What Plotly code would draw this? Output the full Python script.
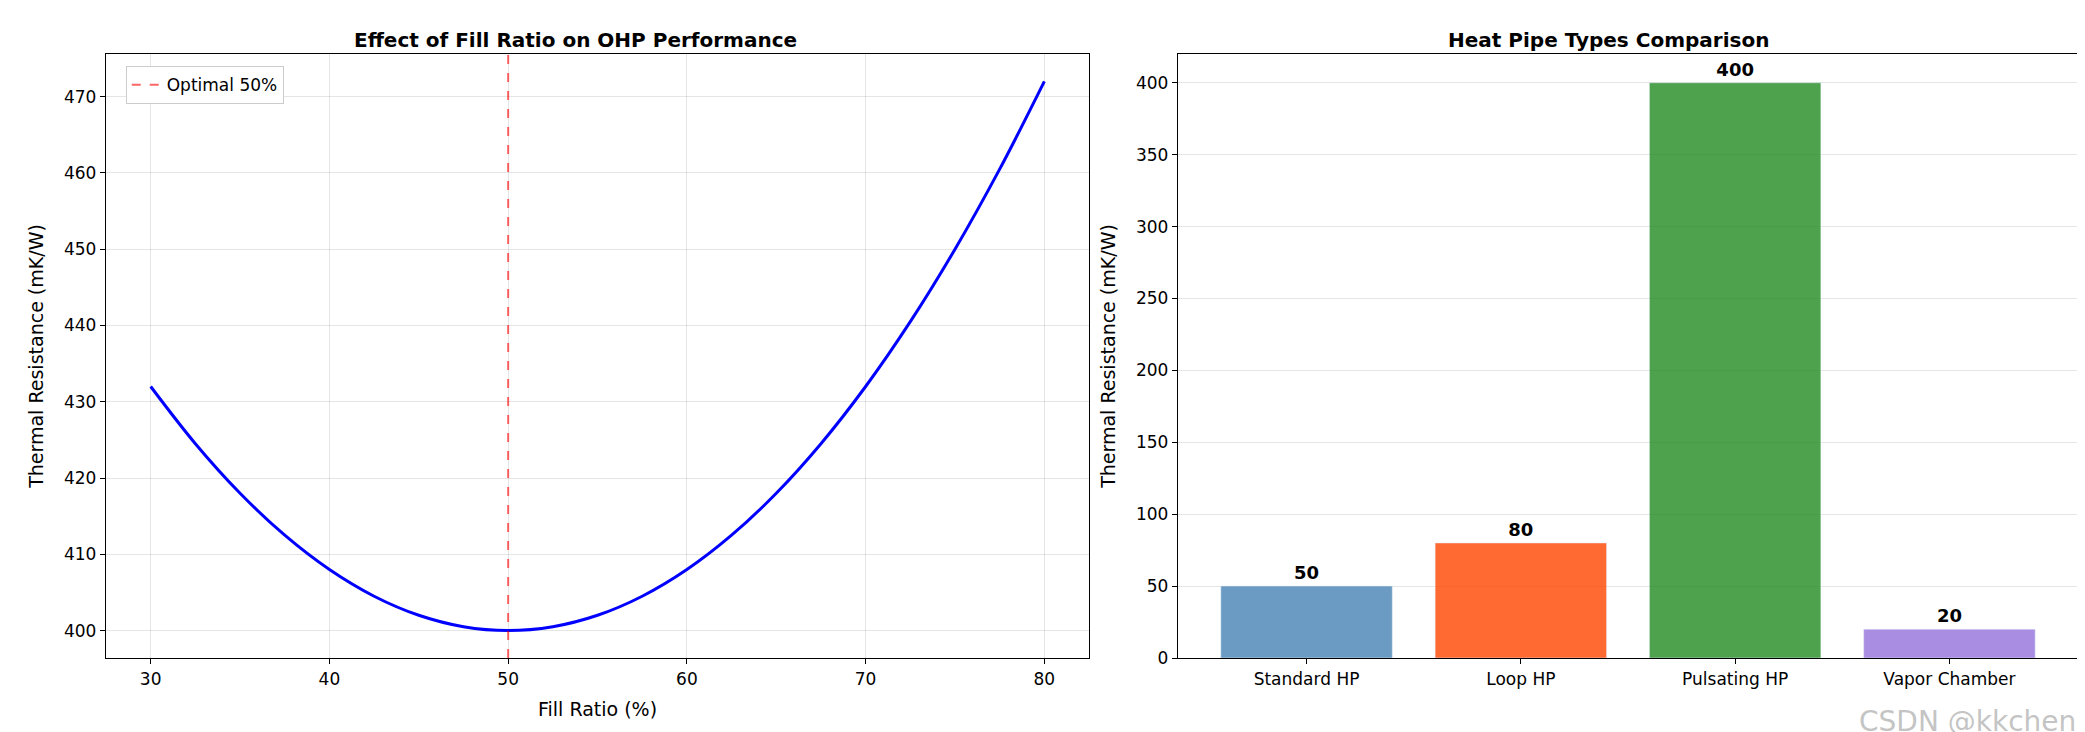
import plotly.graph_objects as go
from plotly.subplots import make_subplots

fill_ratio = [30, 32.5, 35, 37.5, 40, 42.5, 45, 47.5, 50, 52.5, 55, 57.5, 60, 62.5, 65, 67.5, 70, 72.5, 75, 77.5, 80]
resistance = [432, 424.5, 418, 412.5, 408, 404.5, 402, 400.5, 400, 400.5, 402, 404.5, 408, 412.5, 418, 424.5, 432, 440.5, 450, 460.5, 472]
hp_types = ["Standard HP", "Loop HP", "Pulsating HP", "Vapor Chamber"]
hp_values = [50, 80, 400, 20]
hp_colors = ["rgba(70,130,180,0.8)", "rgba(255,69,0,0.8)", "rgba(34,139,34,0.8)", "rgba(147,112,219,0.8)"]

fig = make_subplots(rows=1, cols=2, horizontal_spacing=0.048,
                    subplot_titles=["<b>Effect of Fill Ratio on OHP Performance</b>", "<b>Heat Pipe Types Comparison</b>"])
fig.add_trace(go.Scatter(x=fill_ratio, y=resistance, mode="lines", line=dict(color="blue", width=3, shape="spline"), showlegend=False), 1, 1)
fig.add_trace(go.Scatter(x=[50, 50], y=[396.4, 475.6], mode="lines", name="Optimal 50%",
                         line=dict(color="rgba(255,0,0,0.6)", width=2, dash="dash")), 1, 1)
fig.add_trace(go.Bar(x=hp_types, y=hp_values, marker_color=hp_colors, width=0.8, text=[f"<b>{v}</b>" for v in hp_values],
                     textposition="outside", textfont=dict(size=18, color="black"), showlegend=False, cliponaxis=False), 1, 2)

ax = dict(showline=True, linecolor="black", linewidth=1.3, mirror=True, ticks="outside", tickcolor="black",
          gridcolor="rgba(0,0,0,0.1)", tickfont=dict(size=17, color="black"), zeroline=False)
fig.update_xaxes(**ax)
fig.update_yaxes(**ax)
fig.update_xaxes(range=[27.5, 82.5], dtick=10, title=dict(text="Fill Ratio (%)", font=dict(size=19, color="black")), row=1, col=1)
fig.update_yaxes(range=[396.4, 475.6], dtick=10, title=dict(text="Thermal Resistance (mK/W)", font=dict(size=19, color="black")), row=1, col=1)
fig.update_xaxes(range=[-0.6, 3.6], showgrid=False, row=1, col=2)
fig.update_yaxes(range=[0, 420], dtick=50, title=dict(text="Thermal Resistance (mK/W)", font=dict(size=19, color="black")), row=1, col=2)
for a in fig.layout.annotations:
    a.font = dict(size=20, color="black")
    a.yshift = 0
fig.add_annotation(text="CSDN @kkchenjj", xref="paper", yref="paper", x=1.008, y=-0.135, xanchor="right", showarrow=False,
                   font=dict(size=28, color="rgba(180,180,180,0.8)"))
fig.update_layout(width=2085, height=732, plot_bgcolor="white", paper_bgcolor="white", font=dict(family="DejaVu Sans"),
                  margin=dict(l=98, r=15, t=46, b=82), bargap=0.2,
                  legend=dict(x=0.01, y=0.98, bordercolor="#cccccc", borderwidth=1, font=dict(size=17, color="black")))
fig.update_layout(xaxis=dict(domain=[0, 0.4985]), xaxis2=dict(domain=[0.5436, 1]))
fig.write_html("out.html")
